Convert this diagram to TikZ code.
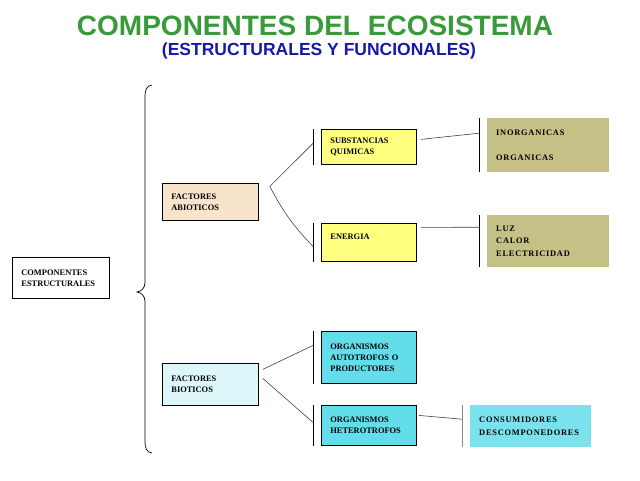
\documentclass[tikz,border=0pt]{standalone}
\usepackage{fontspec}
\setmainfont{Liberation Serif}
\newfontfamily\headfont{Liberation Sans}
\usepackage{tikz}
\usetikzlibrary{positioning}
\definecolor{titlegreen}{HTML}{389A38}
\definecolor{titleblue}{HTML}{1818A8}
\definecolor{abiofill}{HTML}{F7E4CB}
\definecolor{biofill}{HTML}{DDF6FA}
\definecolor{yellowfill}{HTML}{FFFF80}
\definecolor{cyanfill}{HTML}{62DDEA}
\definecolor{olivefill}{HTML}{C4C086}

\begin{document}
\begin{tikzpicture}[x=1pt, y=-1pt,
    box/.style={rectangle, anchor=north west, align=left, inner xsep=9pt,
        font=\bfseries\fontsize{8.4}{11}\selectfont},
    wbox/.style={box, draw=black, line width=0.8pt},
    sbox/.style={box, font=\bfseries\fontsize{8.4}{12.5}\addfontfeature{LetterSpace=9}\selectfont},
    link/.style={draw=black!75, line width=0.6pt},
    bar/.style={draw=black, line width=0.8pt}
]

\useasboundingbox (0,0) rectangle (640,480);

% Titulo
\node[font=\headfont\bfseries\fontsize{28}{30}\selectfont, text=titlegreen]
    (titulo) at (315,26) {COMPONENTES DEL ECOSISTEMA};
\node[font=\headfont\bfseries\fontsize{17.5}{20}\selectfont, text=titleblue]
    (subtitulo) at (319,51) {(ESTRUCTURALES Y FUNCIONALES)};

% Cajas
\node[wbox, minimum width=97pt, minimum height=41pt, text width=79pt]
    (comp) at (12,257) {COMPONENTES\\ESTRUCTURALES};
\node[wbox, fill=abiofill, minimum width=96pt, minimum height=37pt, text width=78pt]
    (abio) at (162,183) {FACTORES\\ABIOTICOS};
\node[wbox, fill=biofill, minimum width=96pt, minimum height=42pt, text width=78pt]
    (bio) at (162,363) {FACTORES\\BIOTICOS};

\node[wbox, fill=yellowfill, minimum width=95pt, minimum height=35pt, text width=77pt]
    (sq) at (321,129) {SUBSTANCIAS\\QUIMICAS};
\node[wbox, fill=yellowfill, minimum width=95pt, minimum height=38pt, text width=77pt]
    (en) at (321,223) {ENERGIA\\\mbox{}};
\node[wbox, fill=cyanfill, minimum width=95pt, minimum height=52pt, text width=77pt]
    (auto) at (321,331) {ORGANISMOS\\AUTOTROFOS O\\PRODUCTORES};
\node[wbox, fill=cyanfill, minimum width=95pt, minimum height=40pt, text width=77pt]
    (het) at (321,405) {ORGANISMOS\\HETEROTROFOS};

\node[sbox, fill=olivefill, minimum width=122pt, minimum height=54pt, text width=104pt]
    (inorg) at (487,118) {INORGANICAS\\[12pt]ORGANICAS};
\node[sbox, fill=olivefill, minimum width=122pt, minimum height=52pt, text width=104pt]
    (luz) at (487,215) {LUZ\\CALOR\\ELECTRICIDAD};
\node[sbox, fill=cyanfill!85!white, minimum width=121pt, minimum height=42pt, text width=103pt]
    (cons) at (470,405) {CONSUMIDORES\\DESCOMPONEDORES};

% Llave grande
\draw[line width=0.7pt] (152,85) .. controls (146,86) and (145,90) .. (145,98)
    -- (145,282) .. controls (145,288) and (142,291) .. (137,292)
    .. controls (142,293) and (145,296) .. (145,302)
    -- (145,440) .. controls (145,448) and (146,452) .. (152,453);

% Barras
\foreach \n in {sq,en,auto,het,inorg,luz}
    \draw[bar] ([xshift=-8pt]\n.north west) -- ([xshift=-8pt]\n.south west);
\draw[bar, draw=black!45] ([xshift=-8pt]cons.north west) -- ([xshift=-8pt]cons.south west);

% Puntos de union
\coordinate (tipA) at ([xshift=11pt,yshift=15.5pt]abio.east);
\coordinate (tipB) at ([xshift=4pt,yshift=15pt]bio.east);
\coordinate (tipC) at ([xshift=4pt,yshift=6pt]bio.east);
\coordinate (sqbar) at ([xshift=-8pt,yshift=3.5pt]sq.west);
\coordinate (enbar) at ([xshift=-8pt,yshift=-4pt]en.west);
\coordinate (autobar) at ([xshift=-8pt,yshift=12pt]auto.west);
\coordinate (hetbar) at ([xshift=-8pt,yshift=3pt]het.west);
\coordinate (inorgbar) at ([xshift=-8pt,yshift=12pt]inorg.west);
\coordinate (luzbar) at ([xshift=-8pt,yshift=14pt]luz.west);
\coordinate (consbar) at ([xshift=-8pt,yshift=7pt]cons.west);

% Conectores
\draw[link] (tipA) -- (sqbar);
\draw[link] (tipA) to[bend right=8] (enbar);
\draw[link] (tipB) -- (autobar);
\draw[link] (tipC) -- (hetbar);
\draw[link] ([xshift=4pt,yshift=7.5pt]sq.east) -- (inorgbar);
\draw[link] ([xshift=4pt,yshift=15pt]en.east) -- (luzbar);
\draw[link] ([xshift=2pt,yshift=10pt]het.east) -- (consbar);

\end{tikzpicture}
\end{document}
